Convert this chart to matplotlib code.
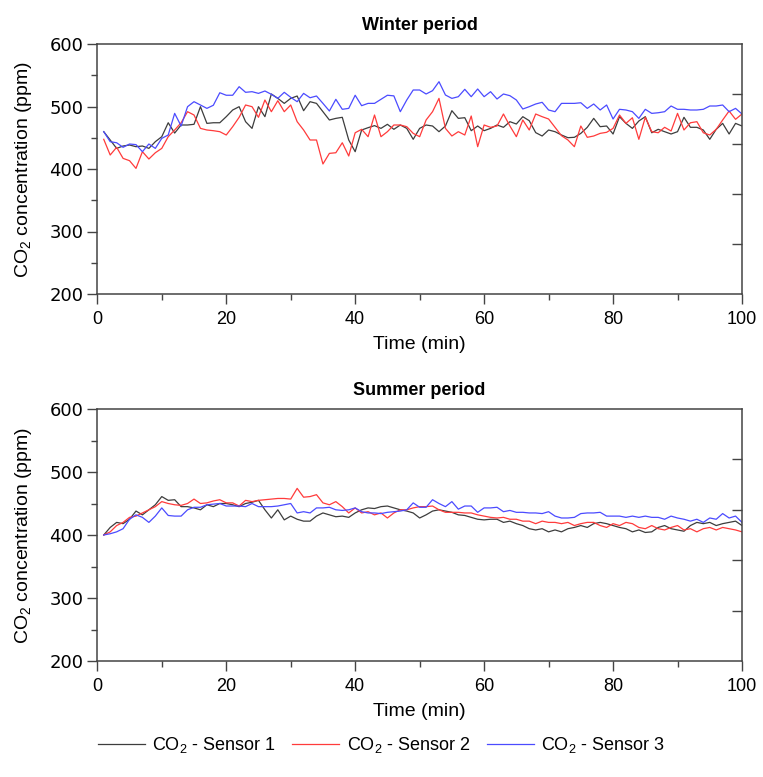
import numpy as np
import matplotlib
matplotlib.use("Agg")
import matplotlib.pyplot as plt
from matplotlib.ticker import MultipleLocator

plt.rcParams['font.family'] = ['Liberation Sans', 'DejaVu Sans']
plt.rcParams['mathtext.fontset'] = 'custom'
plt.rcParams['mathtext.rm'] = 'Liberation Sans'
plt.rcParams['mathtext.it'] = 'Liberation Sans'

time_min = list(range(1, 101))

winter_s1 = [459.7, 446.4, 433, 436.8, 438.4, 435.7, 436.8, 433, 443.7, 451.7,
             474, 457.5, 470.4, 470.4, 471.5, 499.7, 473, 474, 474, 483.7,
             494.4, 499.7, 475.7, 465, 499.7, 483.7, 520, 513, 505, 513,
             516.8, 493.3, 507.7, 505, 491.7, 478.4, 481, 482.7, 446.4, 427.7,
             462.4, 466.1, 469.4, 465, 471.5, 463.5, 470.4, 465, 447.5,
             465, 470.4, 468.8, 459.7, 468.8, 493.3, 481, 482.1, 461.3, 468.8,
             461.3, 465, 470.4, 466.7, 475.7, 472, 483.7, 477.3, 458.2, 452.8,
             462.4, 459.7, 454.4, 450.1, 450.7, 457, 466.7, 481, 467.7, 468.8,
             456, 483.7, 473, 465, 476.8, 483.7, 458, 463.5, 459.7, 456,
             459.7, 482.7, 466.7, 466.7, 462.4, 447.5, 463.5, 473, 456, 473, 468.8]

winter_s2 = [447.5, 422.4, 434.7, 417, 413.3, 401, 427.7, 416, 426, 433,
             451.7, 462.4, 474, 491.7, 486.4, 465, 462.4, 461.3, 459.7, 454.4,
             467.7, 482.7, 502.4, 499.7, 482.7, 510.4, 491.7, 509.3, 491.7, 502.4,
             475.7, 462.4, 446.4, 446.4, 408, 425, 426, 442, 420.8, 458,
             463.5, 451.7, 486.4, 451.7, 459.7, 470.4, 470.4, 467.7, 457,
             451.7, 478.4, 491.7, 513, 465, 452.8, 459.7, 454.4, 484.8, 435.7,
             470.4, 466.7, 468.8, 488, 468.8, 451.7, 478.4, 462.4, 488, 483.7,
             480, 466.7, 453.3, 446.4, 435.7, 468.8, 450.7, 452.8, 457, 458.7,
             465, 486.4, 473, 482, 447.5, 482.7, 459.7, 458, 466.7, 460.8,
             489, 462.4, 474, 475.7, 458, 454.4, 463.5, 478.4, 492.8, 479.5, 488]

winter_s3 = [459.7, 443.7, 442, 434.7, 440, 439, 427.7, 440, 433, 449,
             454.4, 489, 468.8, 499.7, 507.7, 502.4, 497, 502, 522, 518,
             518, 531.7, 522.7, 523.7, 521, 524.8, 519.5, 513, 522.7, 514.7,
             507.7, 521, 514, 516.8, 505, 492.8, 511.5, 495.5, 497, 518,
             501.3, 505, 505, 511.5, 518, 517, 491.7, 510.4, 526.4,
             526.4, 520, 525.3, 539.7, 518.4, 513, 515.7, 527.5, 515.7, 528,
             515.7, 523.7, 512, 520, 517.3, 510.4, 496, 499.7, 504, 506.7,
             494.4, 491.7, 505, 505, 505, 506, 497, 504, 494.4, 502.4,
             480, 495.5, 494.4, 491.7, 481, 495.5, 489, 490, 491.7, 500.8,
             495.5, 495.5, 494.4, 494.4, 495.5, 500.8, 500.8, 502.4, 491.7, 497, 488]

summer_s1 = [400, 412, 420, 418, 425, 438, 432, 440, 448, 461,
             455, 456, 445, 445, 443, 440, 448, 445, 450, 450,
             448, 445, 450, 452, 455, 440, 427, 440, 424, 430,
             425, 422, 422, 430, 435, 432, 429, 430, 428, 435,
             440, 443, 442, 445, 446, 443, 440, 438, 435, 427,
             432, 438, 440, 438, 436, 432, 431, 428, 425, 424,
             425, 425, 420, 422, 418, 415, 410, 408, 410, 405,
             408, 405, 410, 412, 415, 412, 418, 420, 418, 415,
             412, 410, 405, 408, 404, 405, 412, 415, 410, 408,
             406, 415, 420, 418, 420, 415, 418, 420, 422, 415]

summer_s2 = [400, 405, 415, 420, 428, 430, 435, 440, 445, 453,
             450, 448, 447, 450, 457, 450, 451, 454, 456, 451,
             451, 446, 455, 453, 455, 456, 457, 458, 458, 457,
             474, 460, 461, 464, 451, 448, 453, 445, 435, 443,
             435, 437, 432, 435, 427, 435, 440, 440, 443, 445,
             445, 446, 440, 436, 436, 436, 435, 435, 432, 430,
             428, 427, 428, 425, 425, 422, 422, 418, 422, 420,
             420, 418, 420, 415, 418, 420, 420, 415, 412, 418,
             415, 420, 418, 412, 410, 415, 410, 408, 412, 415,
             408, 410, 405, 410, 412, 408, 412, 410, 408, 405]

summer_s3 = [400, 402, 405, 410, 425, 432, 428, 420, 430, 443,
             431, 430, 430, 440, 444, 444, 448, 449, 450, 446,
             446, 446, 445, 450, 445, 445, 445, 446, 448, 450,
             435, 437, 435, 443, 443, 444, 440, 439, 440, 443,
             437, 435, 435, 434, 436, 437, 438, 440, 451, 444,
             444, 456, 450, 445, 453, 441, 446, 446, 436, 443,
             443, 444, 437, 439, 436, 436, 435, 435, 434, 437,
             430, 427, 427, 428, 434, 435, 435, 436, 430, 430,
             430, 428, 430, 428, 430, 428, 428, 425, 430, 427,
             425, 422, 425, 420, 427, 425, 434, 427, 430, 420]

labels = ['CO$_2$ - Sensor 1', 'CO$_2$ - Sensor 2', 'CO$_2$ - Sensor 3']
colors = ['#3d3d3d', '#ff3b3b', '#4b4bff']
titles = ['Winter period', 'Summer period']
y_ticks = [200, 300, 400, 500, 600]
x_ticks = [0, 20, 40, 60, 80, 100]
right_ticks = [280, 360, 440, 520]

W, H = 763, 777
fig = plt.figure(figsize=(W / 100, H / 100), dpi=100)

boxes = [(97.3, 44, 742, 294), (97.3, 409, 742, 661)]
datasets = [(winter_s1, winter_s2, winter_s3), (summer_s1, summer_s2, summer_s3)]
spine_col = '#444444'
fs = 13

handles = []
for (x0, y0, x1, y1), data, title in zip(boxes, datasets, titles):
    ax = fig.add_axes([x0 / W, 1 - y1 / H, (x1 - x0) / W, (y1 - y0) / H])
    for series, c, lab in zip(data, colors, labels):
        ln, = ax.plot(time_min, series, color=c, lw=0.9, label=lab)
        if len(handles) < 3:
            handles.append(ln)
    ax.set_xlim(0, 100)
    ax.set_ylim(200, 600)
    ax.set_xticks(x_ticks)
    ax.set_yticks(y_ticks)
    ax.xaxis.set_minor_locator(MultipleLocator(10))
    ax.yaxis.set_minor_locator(MultipleLocator(50))
    ax.tick_params(which='major', direction='out', length=7, width=1.0,
                   color=spine_col, labelsize=fs, top=False, right=False)
    ax.tick_params(which='minor', direction='out', length=4, width=1.0,
                   color=spine_col, top=False, right=False)
    ax.tick_params(axis='x', pad=5)
    ax.tick_params(axis='y', pad=3)
    for lbl in ax.get_yticklabels():
        lbl.set_family('DejaVu Sans')
        lbl.set_fontsize(13)
    for s in ax.spines.values():
        s.set_color(spine_col)
        s.set_linewidth(1.1)
    ax.set_xlabel('Time (min)', fontsize=14, labelpad=6)
    ax.set_ylabel('CO$_2$ concentration (ppm)', fontsize=14, labelpad=11)
    ax.set_title(title, fontsize=fs, fontweight='bold', pad=10)
    axr = ax.twinx()
    axr.set_ylim(200, 600)
    axr.set_yticks(right_ticks)
    axr.set_yticklabels([])
    axr.tick_params(axis='y', direction='in', length=7, width=1.0, color=spine_col)
    for s in axr.spines.values():
        s.set_visible(False)

fig.legend(handles, labels, loc='center', bbox_to_anchor=(0.5, 1 - 745 / H),
           ncol=3, frameon=False, fontsize=fs, handlelength=2.6,
           handletextpad=0.4, columnspacing=0.9)

fig.savefig('out.png', dpi=100)
